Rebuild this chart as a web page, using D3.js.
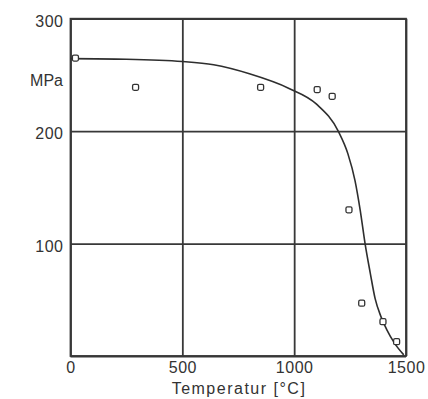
<!DOCTYPE html>
<html>
<head>
<meta charset="utf-8">
<style>
  body { margin: 0; background: #fff; }
  text { font-family: "Liberation Sans", Arial, sans-serif; fill: #333; }
</style>
</head>
<body>
<svg width="428" height="399"></svg>
<script src="https://d3js.org/d3.v7.min.js"></script>
<script>

// ticks
var xTicks = [0, 500, 1000, 1500],
    yTicks = [0, 100, 200, 300];

// fitted curve (temperature, MPa)
var curveTemp = [0, 250, 500, 640, 800, 977, 1100, 1197, 1240, 1272, 1295, 1317, 1340, 1362, 1388, 1415, 1450, 1490],
    curveMPa  = [264.5, 264, 262, 259, 251, 238, 224, 200, 180, 156, 130, 100, 74, 51, 35, 23, 11, 1];

// measured points
var pointTemp = [22, 291, 850, 1103, 1170, 1245, 1302, 1397, 1458],
    pointMPa  = [265, 239, 239, 237, 231, 130, 47, 30.5, 12.7];

var svg = d3.select("svg"),
    margin = {top: 18.7, left: 70.5},
    width = 335.5,
    height = 337.3;

var g = svg.append("g").attr("transform", "translate(" + margin.left + "," + margin.top + ")");

var x = d3.scaleLinear().domain([0, 1500]).range([0, width]),
    y = d3.scaleLinear().domain([0, 300]).range([height, 0]);

var xAxis = g.append("g")
    .attr("transform", "translate(0," + height + ")")
    .call(d3.axisBottom(x).tickValues(xTicks).tickSize(-height).tickPadding(6).tickFormat(d3.format("d")));

var yAxis = g.append("g")
    .call(d3.axisLeft(y).tickValues(yTicks).tickSize(-width).tickPadding(7)
      .tickFormat(function(d) { return d === 0 ? "" : d; }));

[xAxis, yAxis].forEach(function(a) {
  a.selectAll("line, path").attr("stroke", "#383838").attr("stroke-width", 1.8);
  a.selectAll("text").attr("font-size", 16).attr("fill", "#333").style("letter-spacing", "0.5px");
});
yAxis.selectAll("text").attr("dy", "0.47em");
xAxis.select(".domain").remove();
yAxis.select(".domain").remove();

// frame
g.append("rect")
    .attr("width", width).attr("height", height)
    .attr("fill", "none").attr("stroke", "#383838").attr("stroke-width", 1.8);

var line = d3.line()
    .x(function(d) { return x(d[0]); })
    .y(function(d) { return y(d[1]); })
    .curve(d3.curveMonotoneX);

g.append("path")
    .datum(d3.zip(curveTemp, curveMPa))
    .attr("d", line)
    .attr("fill", "none")
    .attr("stroke", "#2e2e2e")
    .attr("stroke-width", 1.6);

g.selectAll(".pt")
    .data(d3.zip(pointTemp, pointMPa))
  .enter().append("rect")
    .attr("class", "pt")
    .attr("x", function(d) { return x(d[0]) - 3; })
    .attr("y", function(d) { return y(d[1]) - 3; })
    .attr("width", 6).attr("height", 6).attr("rx", 1.5)
    .attr("fill", "#fff")
    .attr("stroke", "#333")
    .attr("stroke-width", 1.3);

// labels
svg.append("text")
    .attr("x", 63).attr("y", 86)
    .attr("text-anchor", "end")
    .attr("font-size", 16)
    .text("MPa");

svg.append("text")
    .attr("x", 239).attr("y", 394)
    .attr("text-anchor", "middle")
    .attr("font-size", 16)
    .style("letter-spacing", "1.5px")
    .text("Temperatur [°C]");

</script>
</body>
</html>
